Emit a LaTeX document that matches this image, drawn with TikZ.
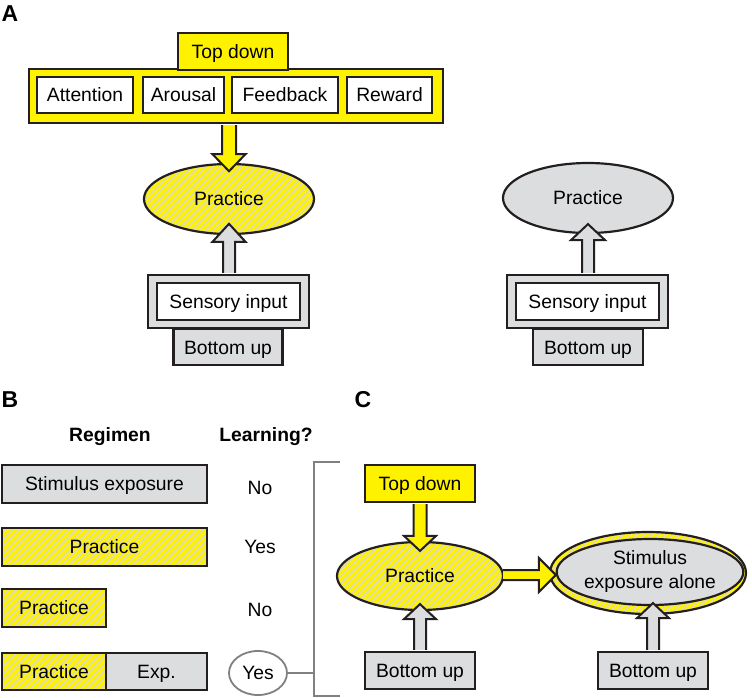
\documentclass[tikz,border=0pt]{standalone}
\usepackage{fontspec}
\setmainfont{Liberation Sans}
\usetikzlibrary{shapes.geometric,patterns.meta,calc}
\definecolor{ylw}{RGB}{255,242,0}
\definecolor{gry}{RGB}{220,221,222}
\definecolor{ink}{RGB}{35,31,32}
\definecolor{hatchc}{RGB}{222,218,190}
\definecolor{brk}{RGB}{128,128,128}
\tikzset{
 base/.style={draw=ink, line width=2.2pt, inner sep=0pt, font=\fontsize{19.3}{24}\selectfont, text height=16pt, text depth=2.2pt},
 ybox/.style={base, rectangle, fill=ylw},
 gbox/.style={base, rectangle, fill=gry},
 wbox/.style={base, rectangle, fill=white},
 hbox/.style={base, rectangle, preaction={fill=ylw}, pattern={Lines[angle=45,distance=5pt,line width=1.6pt]}, pattern color=hatchc},
 hell/.style={hbox, ellipse},
 gell/.style={base, ellipse, fill=gry},
 plain/.style={font=\fontsize{19.3}{24}\selectfont, text height=16pt, text depth=2.2pt},
 bold/.style={font=\fontsize{19.3}{24}\selectfont\bfseries},
 panel/.style={font=\fontsize{23}{27}\selectfont\bfseries},
 arrowline/.style={draw=ink, line width=2pt, line join=miter},
 yarr/.style={fill=ylw},
 garr/.style={fill=gry},
 brack/.style={draw=brk, line width=2pt},
}
\newcommand{\blockarr}[6]{%
 \coordinate (ba) at (#2); \coordinate (bb) at (#3);
 \coordinate (bh) at ($(bb)!#6!(ba)$);
 \fill[#1] ($(ba)!#4!90:(bb)$) -- ($(bh)!#4!90:(bb)$) -- ($(bh)!#5!90:(bb)$) -- (bb) -- ($(bh)!#5!-90:(bb)$) -- ($(bh)!#4!-90:(bb)$) -- ($(ba)!#4!-90:(bb)$) -- cycle;
 \draw[arrowline] ($(ba)!#4!90:(bb)$) -- ($(bh)!#4!90:(bb)$) -- ($(bh)!#5!90:(bb)$) -- (bb) -- ($(bh)!#5!-90:(bb)$) -- ($(bh)!#4!-90:(bb)$) -- ($(ba)!#4!-90:(bb)$);
}
\begin{document}
\begin{tikzpicture}[x=1pt,y=-1pt]
\useasboundingbox (0,0) rectangle (752,698);
% ---------- Panel A ----------
\node[panel] (labA) at (10,14) {A};
\node[ybox, minimum width=414pt, minimum height=54pt] (big) at (236,96) {};
\node[ybox, minimum width=110pt, minimum height=37pt] (tdA) at (233,51.5) {Top down};
\node[wbox, minimum width=96pt, minimum height=36pt] (att) at (85,95) {Attention};
\node[wbox, minimum width=81pt, minimum height=36pt] (aro) at (183.5,95) {Arousal};
\node[wbox, minimum width=106pt, minimum height=36pt] (fee) at (285,95) {Feedback};
\node[wbox, minimum width=85pt, minimum height=36pt] (rew) at (389.5,95) {Reward};
\node[hell, minimum width=170pt, minimum height=70pt] (pracA) at (229,199) {Practice};
\node[gbox, minimum width=161pt, minimum height=53pt] (senA) at (228.5,301.5) {};
\node[wbox, minimum width=143pt, minimum height=37pt] (senAi) at (228.5,301.5) {Sensory input};
\node[gbox, minimum width=109pt, minimum height=36pt, anchor=north] (buA) at (228,328) {Bottom up};
\blockarr{yarr}{$(pracA.north |- big.south)+(0,1)$}{$(pracA.north)+(0,8)$}{7pt}{16.5pt}{17pt}
\blockarr{garr}{$(pracA.south |- senA.north)+(0,-1)$}{$(pracA.south)+(0,-11)$}{6pt}{16.5pt}{18pt}
% right
\node[gell, minimum width=170pt, minimum height=70pt] (pracR) at (588,198) {Practice};
\node[gbox, minimum width=161pt, minimum height=53pt] (senR) at (587.5,301.5) {};
\node[wbox, minimum width=143pt, minimum height=37pt] (senRi) at (587.5,301.5) {Sensory input};
\node[gbox, minimum width=110pt, minimum height=36pt, anchor=north] (buR) at (588,328) {Bottom up};
\blockarr{garr}{$(pracR.south |- senR.north)+(0,-1)$}{$(pracR.south)+(0,-10)$}{6pt}{17pt}{16pt}
% ---------- Panel B ----------
\node[panel] (labB) at (10,400) {B};
\node[bold] (reg) at (110,437) {Regimen};
\node[bold] (lrn) at (266,437) {Learning?};
\node[gbox, minimum width=205pt, minimum height=38pt] (stim) at (104.5,484) {Stimulus exposure};
\node[plain] (ans1) at (260,488) {No};
\node[hbox, minimum width=205pt, minimum height=38pt] (pl) at (104.5,547) {Practice};
\node[plain] (ans2) at (260,547) {Yes};
\node[hbox, minimum width=104pt, minimum height=38pt] (ps) at (54,608) {Practice};
\node[plain] (ans3) at (260,610) {No};
\node[hbox, minimum width=104pt, minimum height=37pt] (pp) at (54,671.5) {Practice};
\node[gbox, minimum width=101pt, minimum height=37pt] (pe) at (156.5,671.5) {Exp.};
\node[ellipse, draw=brk, line width=1.8pt, fill=white, inner sep=0pt, minimum width=58pt, minimum height=44pt, plain] (ans4) at (258,673) {Yes};
\coordinate (bt) at (314,462);
\coordinate (bbt) at (314,696);
\coordinate (btr) at (340,462);
\coordinate (bbr) at (340,696);
\draw[brack] (btr) -- (bt) -- (bbt) -- (bbr);
\draw[brack] (ans4.east) -- (ans4.east -| bt);
% ---------- Panel C ----------
\node[panel] (labC) at (363,400) {C};
\node[ybox, minimum width=110pt, minimum height=37pt] (tdC) at (420,483.5) {Top down};
\node[hell, minimum width=166pt, minimum height=68pt] (pracC) at (420,576) {Practice};
\node[gbox, minimum width=110pt, minimum height=37pt] (buC) at (420,670.5) {Bottom up};
\node[hell, minimum width=196pt, minimum height=82pt] (outC) at (648,573) {};
\node[gell, minimum width=170pt, minimum height=66pt, align=center, text height={}, text depth={}] (expC) at (650,572) {Stimulus\\exposure alone};
\node[gbox, minimum width=110pt, minimum height=37pt] (buC2) at (653,670.5) {Bottom up};
\blockarr{yarr}{$(tdC.south)+(0,1)$}{$(pracC.north)+(0,10)$}{6.5pt}{16pt}{15pt}
\blockarr{garr}{$(buC.north)+(0,-1)$}{$(pracC.south)+(0,-7)$}{6pt}{16pt}{15pt}
\blockarr{yarr}{$(pracC.east)+(-1,-1)$}{$(outC.west |- pracC.east)+(7,-1)$}{5pt}{17pt}{17pt}
\blockarr{garr}{$(buC2.north)+(0,-1)$}{$(buC2.north |- expC.south)+(0,-3)$}{6pt}{16pt}{15pt}
\end{tikzpicture}
\end{document}
